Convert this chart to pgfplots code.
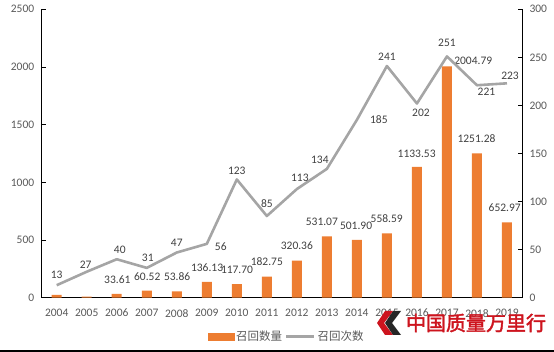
\documentclass[border=0pt]{standalone}
\usepackage{fontspec}
\setmainfont{Carlito}
\newfontfamily\cjk{Noto Sans CJK SC}
\newfontfamily\cjkwm{Noto Sans CJK SC}[FakeBold=2]
\usepackage{pgfplots}
\usepackage{pgfplotstable}
\pgfplotsset{compat=1.18}
\definecolor{barorange}{RGB}{237,125,49}
\definecolor{linegray}{RGB}{165,165,165}
\definecolor{ticktext}{RGB}{89,89,89}
\definecolor{labtext}{RGB}{64,64,64}
\definecolor{wmred}{RGB}{205,20,30}

\pgfplotstableread{
x y
0 24
1 9
2 33.61
3 60.52
4 53.86
5 136.13
6 117.70
7 182.75
8 320.36
9 531.07
10 501.90
11 558.59
12 1133.53
13 2004.79
14 1251.28
15 652.97
}\bars

\pgfplotstableread{
x y dx dy lab
2 33.61 0.6 14.5 33.61
3 60.52 0.5 14 60.52
4 53.86 0.4 15 53.86
5 136.13 0.3 14.3 136.13
6 117.70 0.2 14 117.70
7 182.75 0 15 182.75
8 320.36 0 14.7 320.36
9 531.07 -5 14.7 531.07
10 501.90 -0.8 14 501.90
11 558.59 -0.2 14.3 558.59
12 1133.53 -0.3 13.6 1133.53
13 2004.79 26.3 5.4 2004.79
14 1251.28 -0.5 15 1251.28
15 652.97 -2.3 14.7 652.97
}\barlabels

\pgfplotstableread{
x y dx dy
0 13 0 10
1 27 -1 7
2 40 3 9
3 31 1 10
4 47 0 10
5 56 14 -3
6 123 0 8.5
7 85 0 12
8 113 3 11
9 134 -7 9
10 185 22 0
11 241 0 9.5
12 202 4 -9
13 251 0 14
14 221 9.5 -6.5
15 223 3 8
}\recalls

\pgfplotsset{
  base/.style={
    scale only axis, width=480.3pt, height=288.4pt,
    at={(41.7pt,54.3pt)}, anchor=south west,
    xmin=-0.5, xmax=15.5, clip=false,
    axis line style={black, line width=0.9pt},
    tick align=inside, major tick length=4.5pt,
    tick style={black, line width=0.9pt},
    /pgf/number format/assume math mode=true,
    /pgf/number format/set thousands separator={},
    tick label style={font=\fontsize{11.5}{13}\selectfont, text=ticktext},
  },
  lab/.style={
    draw=none, mark=none, forget plot,
    nodes near coords, point meta=explicit symbolic,
    visualization depends on={\thisrow{dx} \as \dx},
    visualization depends on={\thisrow{dy} \as \dy},
    nodes near coords style={anchor=center, xshift=\dx pt, yshift=\dy pt,
      font=\fontsize{11.5}{13}\selectfont, text=labtext, inner sep=0pt},
  },
}

\begin{document}
\begin{tikzpicture}
\useasboundingbox (0pt,0pt) rectangle (554pt,352pt);
\fill[black] (0pt,0pt) rectangle (554pt,2pt);
\begin{axis}[base,
  axis y line*=left, axis x line*=bottom,
  ymin=0, ymax=2500, ytick={0,500,...,2500},
  xtick={0,...,15},
  xticklabels={2004,2005,2006,2007,2008,2009,2010,2011,2012,2013,2014,2015,2016,2017,2018,2019},
  xtick style={draw=none},
  yticklabel style={xshift=-4pt},
  xticklabel style={yshift=-8pt},
]
\addplot[ybar, bar width=10pt, bar shift=0pt, fill=barorange, draw=none] table[x=x,y=y]{\bars};
\addplot[lab] table[x=x,y=y,meta=lab]{\barlabels};
\end{axis}
\begin{axis}[base,
  axis y line*=right, axis x line=none,
  ymin=0, ymax=300, ytick={0,50,...,300},
  yticklabel style={xshift=4pt},
  legend style={at={(0.51,-0.135)}, anchor=center, draw=none, fill=none,
    legend columns=2, font=\cjk\fontsize{11.5}{13}\selectfont, text=ticktext,
    /tikz/every even column/.append style={column sep=1pt}},
]
\addlegendimage{legend image code/.code={\fill[barorange] (0pt,-3.5pt) rectangle (26pt,3.5pt);}}
\addlegendentry{召回数量}
\addplot[linegray, line width=2.6pt, line join=round, mark=none,
  legend image code/.code={\draw[linegray, line width=2.6pt] (0pt,0pt) -- (28pt,0pt);}]
  table[x=x,y=y]{\recalls};
\addlegendentry{召回次数}
\addplot[lab] table[x=x,y=y,meta=y]{\recalls};
\end{axis}
% watermark logo
\fill[wmred] (385pt,41pt) -- (393pt,41pt) -- (384pt,29pt) -- (393pt,17pt) -- (385pt,17pt) -- (377pt,29pt) -- cycle;
\fill[black!85] (393pt,41pt) -- (401pt,41pt) -- (392pt,29pt) -- (401pt,17pt) -- (393pt,17pt) -- (385pt,29pt) -- cycle;
\node[text=wmred, font=\cjkwm\fontsize{20}{20}\selectfont, inner sep=0pt] at (476pt,29pt) {中国质量万里行};
\end{tikzpicture}
\end{document}
